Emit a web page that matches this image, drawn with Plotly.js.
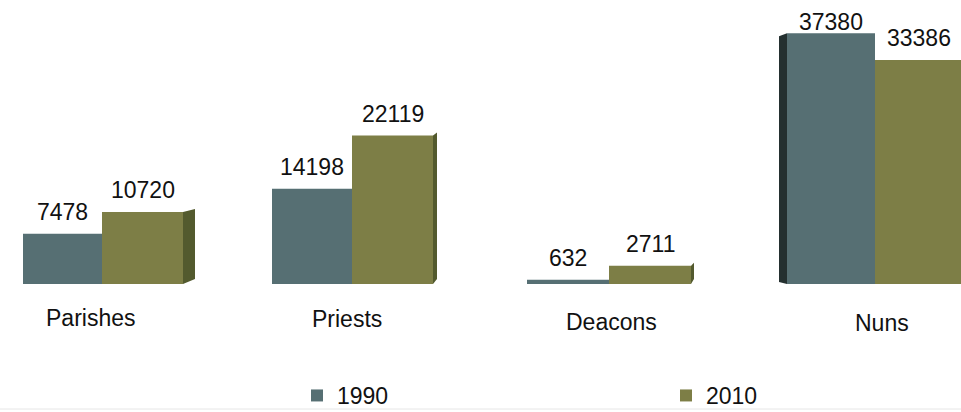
<!DOCTYPE html>
<html><head><meta charset="utf-8">
<script src="https://cdn.plot.ly/plotly-3.0.1.min.js"></script>
<style>html,body{margin:0;padding:0;background:#fff}#chart{width:961px;height:412px}</style>
</head><body><div id="chart"></div>
<script>
const categories = ["Parishes", "Priests", "Deacons", "Nuns"];
const seriesNames = ["1990", "2010"];
const values1990 = [7478, 14198, 632, 37380];
const values2010 = [10720, 22119, 2711, 33386];

const W = 961, H = 412, plotH = 284;
const pxPerX = 257, x0px = 102, yMax = 42320;
const yPerPx = yMax / plotH;
const xIdx = categories.map((_, i) => i);
const FONT = "Liberation Sans, Arial, Helvetica, sans-serif";
const colors = ["#566f73", "#7d7e46"];
const sideColors = ["#243030", "#535a2e"];

// layout tweaks (pixels) imitating the perspective of the original
const groupShiftPx = [0, -7, -7, 2];
const widthPx = [[79, 80, 82, 88], [81, 81, 82, 88]];
const sideDepthPx = [12, 4, 3, 8];
const catLabelDx = [-12, -5, 2, 7];
const catLabelDy = [34, 35, 38, 39];

const u = px => px / pxPerX;
const edges = s => xIdx.map(i => {
  const c = i + u(groupShiftPx[i]);
  const w = u(widthPx[s][i]);
  return s === 0 ? [c - w, c] : [c, c + w];
});
const e0 = edges(0), e1 = edges(1);

const shapes = [];
xIdx.forEach(i => {
  let xEdge, dir, top, col;
  if (i < 3) { xEdge = e1[i][1]; dir = 1; top = values2010[i]; col = sideColors[1]; }
  else { xEdge = e0[i][0]; dir = -1; top = values1990[i]; col = sideColors[0]; }
  const d = dir * u(sideDepthPx[i]);
  const lift = (i < 3 ? 3 : -3) * yPerPx, bLift = (i < 3 ? 5 : 2) * yPerPx;
  shapes.push({
    type: "path", xref: "x", yref: "y", layer: "above",
    path: `M ${xEdge} 0 L ${xEdge + d} ${bLift} L ${xEdge + d} ${top + lift} L ${xEdge} ${top} Z`,
    fillcolor: col, line: { width: 0 }
  });
});
shapes.push({ type: "line", xref: "paper", yref: "paper", x0: 0, x1: 1,
  y0: (plotH - 409) / plotH, y1: (plotH - 409) / plotH, line: { color: "#e6e6e6", width: 1 } });

const annotations = [];
[values1990, values2010].forEach((vals, s) => {
  const ed = s === 0 ? e0 : e1;
  vals.forEach((v, i) => {
    const topPx = plotH - v / yPerPx;
    const shift = Math.min(22, topPx - 22);
    annotations.push({
      x: (ed[i][0] + ed[i][1]) / 2, y: v, xref: "x", yref: "y",
      text: String(v), showarrow: false, yanchor: "middle", yshift: shift,
      font: { family: FONT, size: 23, color: "#111" }
    });
  });
});
categories.forEach((c, i) => {
  annotations.push({
    x: i + u(groupShiftPx[i]), y: 0, xref: "x", yref: "paper",
    text: c, showarrow: false, yanchor: "middle", xshift: catLabelDx[i], yshift: -catLabelDy[i],
    font: { family: FONT, size: 23, color: "#111" }
  });
});

const mk = (vals, s, lg) => {
  const ed = s === 0 ? e0 : e1;
  return {
    type: "bar", x: xIdx, y: vals, name: seriesNames[s], legend: lg,
    offset: xIdx.map(i => ed[i][0] - i),
    width: xIdx.map(i => ed[i][1] - ed[i][0]),
    marker: { color: colors[s], line: { width: 0 } },
    hoverinfo: "none"
  };
};
const data = [mk(values1990, 0, "legend"), mk(values2010, 1, "legend2")];

const legendBase = {
  orientation: "h", yref: "container", y: 1 - 374 / H, yanchor: "top", xref: "container", xanchor: "left",
  font: { family: FONT, size: 23, color: "#111" }, bgcolor: "rgba(0,0,0,0)", itemwidth: 30
};

const layout = {
  width: W, height: H,
  margin: { l: 0, r: 0, t: 0, b: H - plotH, pad: 0, autoexpand: false },
  paper_bgcolor: "#fff", plot_bgcolor: "#fff",
  barmode: "group",
  font: { family: FONT, color: "#111" },
  xaxis: {
    range: [-x0px / pxPerX, (W - x0px) / pxPerX],
    showticklabels: false, showgrid: false, zeroline: false, showline: false, ticks: "", fixedrange: true
  },
  yaxis: { range: [0, yMax], visible: false, showgrid: false, zeroline: false, fixedrange: true },
  showlegend: true,
  legend: Object.assign({}, legendBase, { x: 297 / W }),
  legend2: Object.assign({}, legendBase, { x: 666 / W }),
  shapes: shapes,
  annotations: annotations
};
Plotly.newPlot("chart", data, layout, { staticPlot: true, displayModeBar: false });
</script></body></html>
